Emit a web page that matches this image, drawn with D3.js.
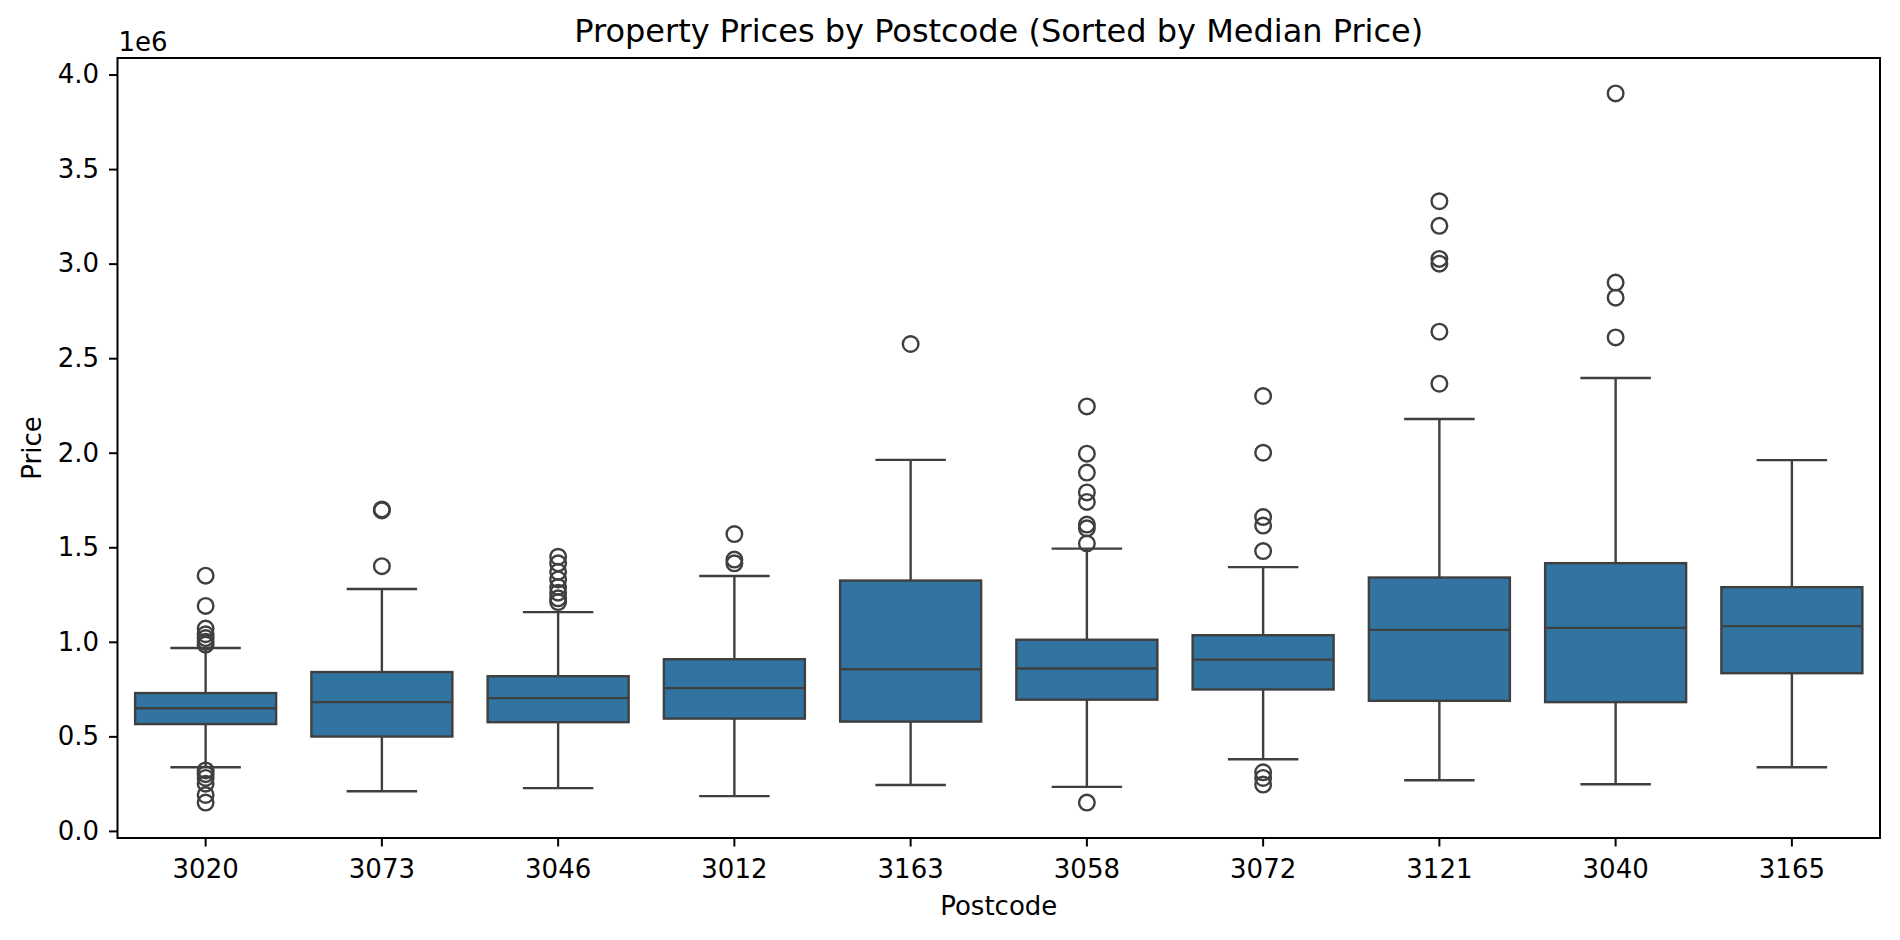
<!DOCTYPE html>
<html>
<head>
<meta charset="utf-8">
<script src="https://cdn.jsdelivr.net/npm/d3@7"></script>
<style>
  body { margin: 0; background: #ffffff; }
  text { font-family: "DejaVu Sans", sans-serif; fill: #000; }
</style>
</head>
<body>
<div id="chart"></div>
<script>
// ---- DATA (prices in dollars) -------------------------------------------

var postcodes = ["3020", "3073", "3046", "3012", "3163", "3058", "3072", "3121", "3040", "3165"];

var q1Values     = [565000, 499000, 575000, 594000, 578000, 694000, 748000, 688000, 681000, 834000];
var medianValues = [649000, 681000, 702000, 755000, 855000, 859000, 906000, 1063000, 1074000, 1083000];
var q3Values     = [729000, 840000, 818000, 908000, 1324000, 1011000, 1035000, 1340000, 1416000, 1289000];
var whiskerLow   = [337000, 210000, 226000, 184000, 243000, 233000, 379000, 268000, 247000, 337000];
var whiskerHigh  = [967000, 1279000, 1157000, 1348000, 1962000, 1493000, 1395000, 2178000, 2395000, 1961000];

var outliers = [
  [1350000, 1190000, 1070000, 1040000, 1020000, 1000000, 985000, 320000, 300000, 280000, 250000, 190000, 150000],
  [1700000, 1695000, 1400000],
  [1450000, 1415000, 1370000, 1330000, 1290000, 1260000, 1230000, 1210000],
  [1570000, 1435000, 1415000],
  [2575000],
  [2245000, 1995000, 1895000, 1790000, 1740000, 1620000, 1600000, 1520000, 150000],
  [2300000, 2000000, 1660000, 1615000, 1480000, 310000, 280000, 245000],
  [3330000, 3200000, 3025000, 3000000, 2640000, 2365000],
  [3900000, 2900000, 2820000, 2610000],
  []
];

var yTicks = [0, 500000, 1000000, 1500000, 2000000, 2500000, 3000000, 3500000, 4000000];

// ---- VARIABLES -----------------------------------------------------------

var w = 1900;
var h = 940;
var padLeft = 117.5, padRight = 1880, padTop = 58, padBottom = 838;
var boxFill = "#3274a1";
var lineColor = "#3f3f3f";
var lineWidth = 2.4;

var dataset = postcodes.map(function(p, i) {
  return {
    postcode: p,
    q1: q1Values[i],
    median: medianValues[i],
    q3: q3Values[i],
    lo: whiskerLow[i],
    hi: whiskerHigh[i],
    fliers: outliers[i]
  };
});

// ---- SCALES AND AXES -----------------------------------------------------

var xScale = d3.scaleBand()
  .domain(postcodes)
  .range([padLeft, padRight])
  .paddingInner(0.2)
  .paddingOuter(0.1);

// matplotlib-style 5% margins around all the values
var allValues = [];
dataset.forEach(function(d) {
  allValues.push(d.lo, d.hi);
  d.fliers.forEach(function(v) { allValues.push(v); });
});
var yMin = d3.min(allValues), yMax = d3.max(allValues);
var margin = (yMax - yMin) * 0.05;

var yScale = d3.scaleLinear()
  .domain([yMin - margin, yMax + margin])
  .range([padBottom, padTop]);

var xAxis = d3.axisBottom(xScale)
  .tickSizeOuter(0)
  .tickSize(8.5)
  .tickPadding(13.5);

var yAxis = d3.axisLeft(yScale)
  .tickValues(yTicks)
  .tickFormat(function(d) { return d3.format(".1f")(d / 1e6); })
  .tickSizeOuter(0)
  .tickSize(8.5)
  .tickPadding(10);

// ---- BUILD ---------------------------------------------------------------

var svg = d3.select("#chart")
  .append("svg")
  .attr("width", w)
  .attr("height", h);

var bw = xScale.bandwidth();

var boxes = svg.selectAll("g.box")
  .data(dataset)
  .enter()
  .append("g")
  .attr("class", "box");

// whiskers
boxes.append("line")
  .attr("x1", function(d) { return xScale(d.postcode) + bw / 2; })
  .attr("x2", function(d) { return xScale(d.postcode) + bw / 2; })
  .attr("y1", function(d) { return yScale(d.q3); })
  .attr("y2", function(d) { return yScale(d.hi); })
  .attr("stroke", lineColor)
  .attr("stroke-width", lineWidth);

boxes.append("line")
  .attr("x1", function(d) { return xScale(d.postcode) + bw / 2; })
  .attr("x2", function(d) { return xScale(d.postcode) + bw / 2; })
  .attr("y1", function(d) { return yScale(d.q1); })
  .attr("y2", function(d) { return yScale(d.lo); })
  .attr("stroke", lineColor)
  .attr("stroke-width", lineWidth);

// caps (half the box width)
["hi", "lo"].forEach(function(k) {
  boxes.append("line")
    .attr("x1", function(d) { return xScale(d.postcode) + bw / 4; })
    .attr("x2", function(d) { return xScale(d.postcode) + bw * 3 / 4; })
    .attr("y1", function(d) { return yScale(d[k]); })
    .attr("y2", function(d) { return yScale(d[k]); })
    .attr("stroke", lineColor)
    .attr("stroke-width", lineWidth);
});

// box
boxes.append("rect")
  .attr("x", function(d) { return xScale(d.postcode); })
  .attr("width", bw)
  .attr("y", function(d) { return yScale(d.q3); })
  .attr("height", function(d) { return yScale(d.q1) - yScale(d.q3); })
  .attr("fill", boxFill)
  .attr("stroke", lineColor)
  .attr("stroke-width", lineWidth);

// median
boxes.append("line")
  .attr("x1", function(d) { return xScale(d.postcode); })
  .attr("x2", function(d) { return xScale(d.postcode) + bw; })
  .attr("y1", function(d) { return yScale(d.median); })
  .attr("y2", function(d) { return yScale(d.median); })
  .attr("stroke", lineColor)
  .attr("stroke-width", lineWidth);

// fliers
boxes.selectAll("circle")
  .data(function(d) {
    return d.fliers.map(function(v) { return { postcode: d.postcode, value: v }; });
  })
  .enter()
  .append("circle")
  .attr("cx", function(d) { return xScale(d.postcode) + bw / 2; })
  .attr("cy", function(d) { return yScale(d.value); })
  .attr("r", 7.8)
  .attr("fill", "none")
  .attr("stroke", lineColor)
  .attr("stroke-width", 2.4);

// axes
var gx = svg.append("g")
  .attr("transform", "translate(0," + padBottom + ")")
  .call(xAxis);

var gy = svg.append("g")
  .attr("transform", "translate(" + padLeft + ",0)")
  .call(yAxis);

[gx, gy].forEach(function(g) {
  g.select(".domain").remove();
  g.selectAll(".tick line").attr("stroke", "#000").attr("stroke-width", 2);
  g.selectAll(".tick text")
    .attr("font-family", "DejaVu Sans")
    .attr("font-size", "26px")
    .attr("fill", "#000");
});

// frame
svg.append("rect")
  .attr("x", padLeft)
  .attr("y", padTop)
  .attr("width", padRight - padLeft)
  .attr("height", padBottom - padTop)
  .attr("fill", "none")
  .attr("stroke", "#000")
  .attr("stroke-width", 2);

// offset text
svg.append("text")
  .attr("x", padLeft + 1)
  .attr("y", 50.5)
  .attr("font-size", "26px")
  .text("1e6");

// title
svg.append("text")
  .attr("x", (padLeft + padRight) / 2)
  .attr("y", 42)
  .attr("text-anchor", "middle")
  .attr("font-size", "32px")
  .text("Property Prices by Postcode (Sorted by Median Price)");

// x label
svg.append("text")
  .attr("x", (padLeft + padRight) / 2)
  .attr("y", 915)
  .attr("text-anchor", "middle")
  .attr("font-size", "26px")
  .text("Postcode");

// y label
svg.append("text")
  .attr("transform", "translate(41," + (padTop + padBottom) / 2 + ") rotate(-90)")
  .attr("text-anchor", "middle")
  .attr("font-size", "26px")
  .text("Price");
</script>
</body>
</html>
